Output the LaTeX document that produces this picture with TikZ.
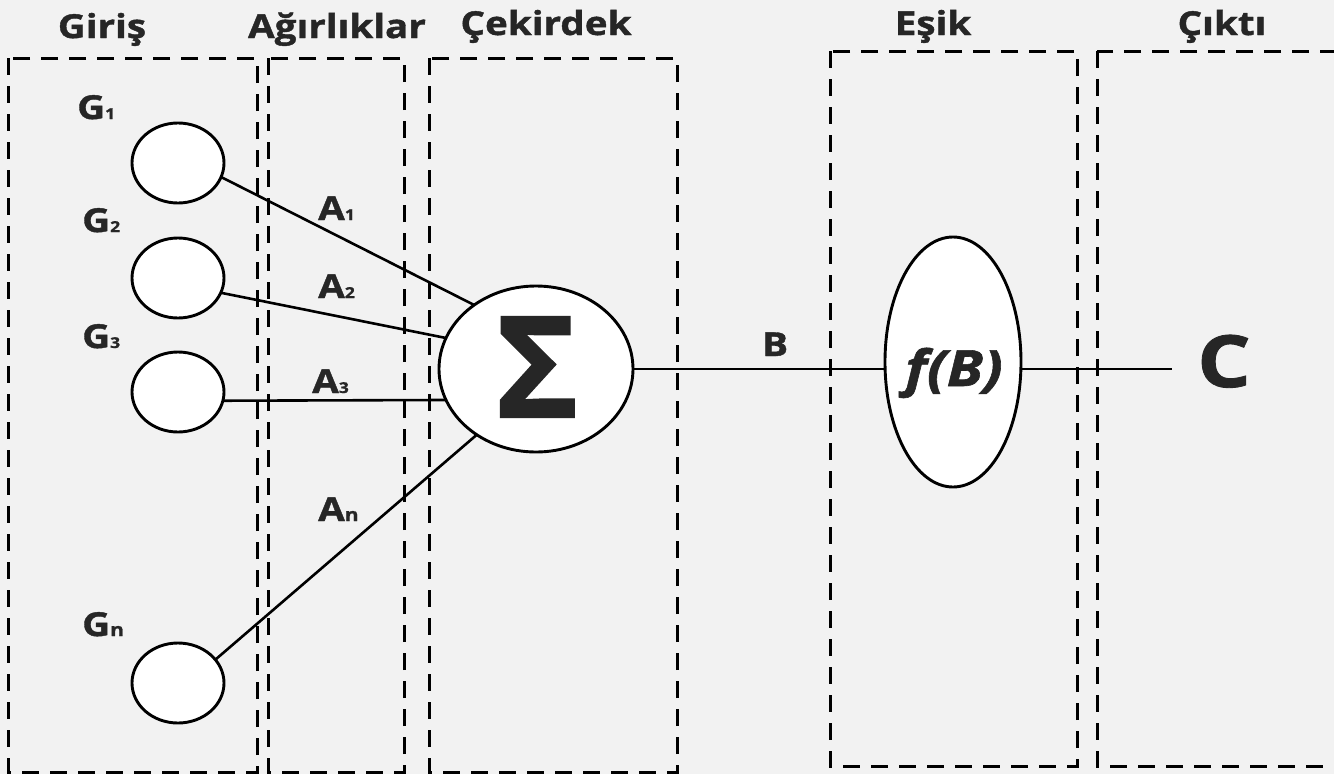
\documentclass[tikz,border=0pt]{standalone}
\usepackage{fontspec}
\setmainfont{Open Sans}[FakeStretch=1.17,BoldFeatures={FakeBold=1.2},BoldItalicFeatures={FakeBold=1.2}]
\newfontfamily\sigmafont{Open Sans}[BoldFeatures={FakeBold=1.5}]
\usetikzlibrary{shapes.geometric}
\definecolor{bg}{HTML}{F2F2F2}
\definecolor{ink}{HTML}{262626}
\newcommand\lowsub[1]{{\fontsize{15}{15}\selectfont #1}}
\newcommand\lowsubn[1]{{\fontsize{18}{18}\selectfont #1}}
\begin{document}
\begin{tikzpicture}[x=1pt,y=-1pt,
  box/.style={draw=black,line width=3pt,dash pattern=on 17pt off 11pt},
  neuron/.style={ellipse,draw=black,fill=white,line width=2.9pt,inner sep=0pt,outer sep=0pt},
  wire/.style={draw=black,line width=2.6pt},
  head/.style={text=ink,font=\bfseries\fontsize{33}{33}\selectfont,anchor=base,inner sep=0pt},
  lbl/.style={text=ink,font=\bfseries\fontsize{33}{33}\selectfont,anchor=base west,inner sep=0pt}]
\useasboundingbox (0,0) rectangle (1334,774);
\fill[bg] (0,0) rectangle (1334,774);
\begin{scope}
\clip (0,0) rectangle (1334,774);
\draw[box] (8,58) rectangle (257,772);
\draw[box] (268,58) rectangle (404,772);
\draw[box] (429,58) rectangle (677,772);
\draw[box] (830,51) rectangle (1077,766);
\draw[box] (1097,51) rectangle (1370,766);
\end{scope}
% headers
\node[head] (hgiris) at (102,38) {Giriş};
\node[head] (hagir) at (337,38) {Ağırlıklar};
\node[head] (hcek) at (546,35) {Çekirdek};
\node[head] (hesik) at (933,35) {Eşik};
\node[head] (hcikti) at (1222,35) {Çıktı};
% input neurons
\node[neuron,minimum width=92pt,minimum height=80pt] (g1) at (178,163) {};
\node[neuron,minimum width=92pt,minimum height=80pt] (g2) at (178,278) {};
\node[neuron,minimum width=92pt,minimum height=80pt] (g3) at (178,392) {};
\node[neuron,minimum width=92pt,minimum height=80pt] (gn) at (178,683) {};
% sum and threshold
\node[neuron,minimum width=194pt,minimum height=166pt] (sigma) at (536,369) {};
\node[text=ink,font=\sigmafont\bfseries\fontsize{140}{140}\selectfont,inner sep=0pt] (sigmatext) at (537,367) {Σ};
\node[neuron,minimum width=136pt,minimum height=250pt] (fb) at (953,362) {};
\node[text=ink,font=\bfseries\itshape\fontsize{50}{50}\selectfont,anchor=base,inner sep=0pt] (fbtext) at (954,386) {f(B)};
% labels
\node[lbl] (lg1) at (77,119) {G\lowsub{1}};
\node[lbl] (lg2) at (82,232) {G\lowsub{2}};
\node[lbl] (lg3) at (82,348) {G\lowsub{3}};
\node[lbl] (lgn) at (82,636) {G\lowsubn{n}};
\node[lbl] (la1) at (318,220) {A\lowsub{1}};
\node[lbl] (la2) at (318,298) {A\lowsub{2}};
\node[lbl] (la3) at (312,393) {A\lowsub{3}};
\node[lbl] (lan) at (318,521) {A\lowsubn{n}};
\node[lbl] (lb) at (762,356) {B};
\node[text=ink,font=\bfseries\fontsize{72}{72}\selectfont,anchor=base,inner sep=0pt] (cout) at (1224,387) {C};
% wires
\draw[wire] (g1.-18) -- (sigma.134);
\draw[wire] (g2.-19) -- (sigma.161);
\draw[wire] (g3.-11) -- (sigma.199);
\draw[wire] (gn.32) -- (sigma.228);
\draw[wire] (sigma.east) -- (sigma.east -| fb.west);
\coordinate (cend) at (1172,369);
\draw[wire] (sigma.east -| fb.east) -- (cend);
\end{tikzpicture}
\end{document}
